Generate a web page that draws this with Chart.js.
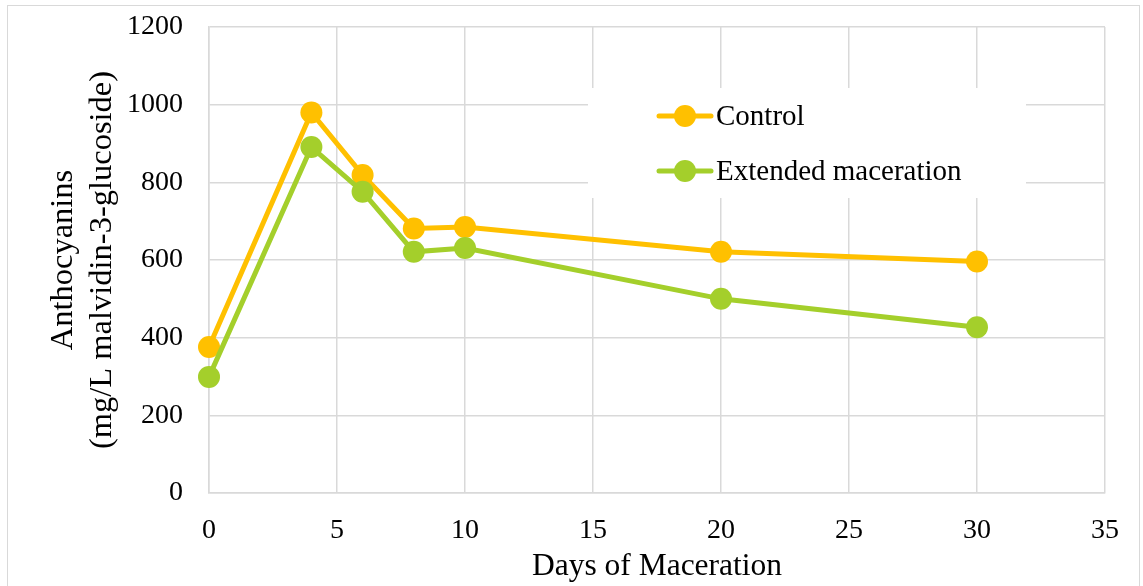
<!DOCTYPE html>
<html>
<head>
<meta charset="utf-8">
<script src="https://cdn.jsdelivr.net/npm/chart.js@4/dist/chart.umd.min.js"></script>
<style>
html,body{margin:0;padding:0;background:#fff;overflow:hidden;}
#wrap{position:relative;width:1143px;height:586px;}
#frame{position:absolute;left:7px;top:5px;width:1133px;height:600px;border:1px solid #d9d9d9;box-sizing:border-box;}
canvas{position:absolute;left:0;top:0;}
</style>
</head>
<body>
<div id="wrap">
<div id="frame"></div>
<canvas id="c" width="1143" height="586"></canvas>
</div>
<script>
const days = [0, 4, 6, 8, 10, 20, 30];
const controlValues = [376, 980, 819, 681, 685, 621, 596];
const extendedValues = [299, 891, 776, 621, 631, 500, 427];
const seriesLabels = ['Control', 'Extended maceration'];
const seriesColors = ['#FFC000', '#A4CF2B'];
const xTitle = 'Days of Maceration';
const yTitle = ['Anthocyanins', '(mg/L malvidin-3-glucoside)'];

const FONT = '"Liberation Serif", "Times New Roman", serif';

const toPoints = (xs, ys) => xs.map((x, i) => ({x: x, y: ys[i]}));

const legendPlugin = {
  id: 'customLegend',
  beforeDatasetsDraw(chart) {
    const ctx = chart.ctx;
    ctx.save();
    ctx.fillStyle = '#fff';
    ctx.fillRect(588, 88, 438, 110);
    const ys = [116, 171];
    chart.data.datasets.forEach((ds, i) => {
      const y = ys[i];
      ctx.strokeStyle = ds.borderColor;
      ctx.lineWidth = 5;
      ctx.lineCap = 'round';
      ctx.beginPath();
      ctx.moveTo(659, y);
      ctx.lineTo(711, y);
      ctx.stroke();
      ctx.fillStyle = ds.backgroundColor;
      ctx.beginPath();
      ctx.arc(685, y, 11, 0, Math.PI * 2);
      ctx.fill();
      ctx.fillStyle = '#000';
      ctx.font = '29px ' + FONT;
      ctx.textBaseline = 'middle';
      ctx.textAlign = 'left';
      ctx.fillText(ds.label, 716, y + 1);
    });
    ctx.restore();
  }
};

new Chart(document.getElementById('c'), {
  type: 'line',
  data: {
    datasets: [
      {
        label: seriesLabels[0],
        data: toPoints(days, controlValues),
        borderColor: seriesColors[0],
        backgroundColor: seriesColors[0],
        borderWidth: 5,
        pointRadius: 11,
        pointBorderWidth: 0,
        pointHoverRadius: 11,
        tension: 0,
        clip: false,
        order: 1
      },
      {
        label: seriesLabels[1],
        data: toPoints(days, extendedValues),
        borderColor: seriesColors[1],
        backgroundColor: seriesColors[1],
        borderWidth: 5,
        pointRadius: 11,
        pointBorderWidth: 0,
        pointHoverRadius: 11,
        tension: 0,
        clip: false,
        order: 0
      }
    ]
  },
  options: {
    responsive: false,
    animation: false,
    layout: {padding: {top: 27, right: 38, bottom: 0, left: 0}},
    plugins: {legend: {display: false}, tooltip: {enabled: false}},
    scales: {
      x: {
        type: 'linear',
        min: 0, max: 35,
        ticks: {stepSize: 5, color: '#000', font: {family: FONT, size: 28}, padding: 21, callback: v => String(v)},
        grid: {color: '#d9d9d9', lineWidth: 1.5, drawTicks: false},
        border: {color: '#d9d9d9', width: 1.5},
        title: {display: true, text: xTitle, color: '#000', font: {family: FONT, size: 31.5, lineHeight: 1.2}, padding: {top: 0, bottom: 0}},
        afterFit(s) { s.height = 93; s.paddingLeft = 0; s.paddingRight = 0; }
      },
      y: {
        min: 0, max: 1200,
        ticks: {stepSize: 200, color: '#000', font: {family: FONT, size: 28}, padding: 26, callback: v => String(v)},
        grid: {color: '#d9d9d9', lineWidth: 1.5, drawTicks: false},
        border: {color: '#d9d9d9', width: 1.5},
        title: {display: true, text: yTitle, color: '#000', font: {family: FONT, size: 32.5, lineHeight: 1.2}, padding: {top: 44, bottom: 0}},
        afterFit(s) { s.width = 209; s.paddingTop = 0; s.paddingBottom = 0; }
      }
    }
  },
  plugins: [legendPlugin]
});
</script>
</body>
</html>
